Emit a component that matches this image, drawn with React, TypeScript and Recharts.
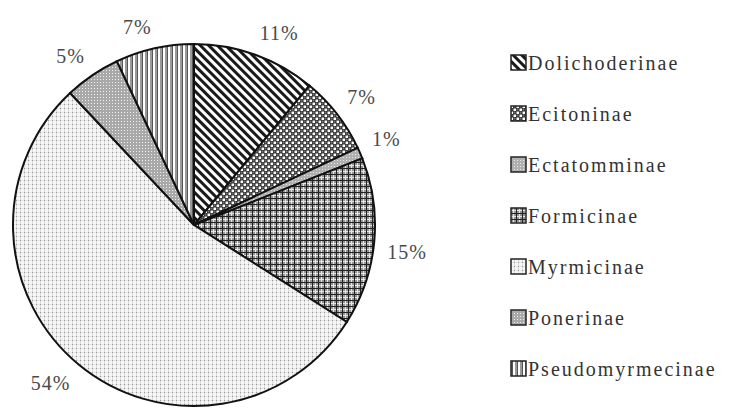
import React from 'react';
import { PieChart, Pie, Cell, Legend } from 'recharts';

const subfamilies = [
  'Dolichoderinae',
  'Ecitoninae',
  'Ectatomminae',
  'Formicinae',
  'Myrmicinae',
  'Ponerinae',
  'Pseudomyrmecinae',
];
const percentages = [11, 7, 1, 15, 54, 5, 7];
const patternIds = ['pDol', 'pEci', 'pEct', 'pFor', 'pMyr', 'pPon', 'pPse'];

const data = subfamilies.map((name, i) => ({ name, value: percentages[i] }));

const FONT = '"Liberation Serif", "DejaVu Serif", serif';
const RAD = Math.PI / 180;

function Patterns() {
  return (
    <svg width={0} height={0} style={{ position: 'absolute' }}>
      <defs>
        <pattern id="pDol" width="6" height="6" patternUnits="userSpaceOnUse" patternTransform="rotate(-45)">
          <rect width="6" height="6" fill="#fff" />
          <rect width="3" height="6" fill="#1a1a1a" />
        </pattern>
        <pattern id="pEci" width="6" height="6" patternUnits="userSpaceOnUse">
          <rect width="6" height="6" fill="#222" />
          <rect x="0.5" y="0.5" width="2.5" height="2.5" fill="#fff" />
          <rect x="3.5" y="3.5" width="2.5" height="2.5" fill="#fff" />
          <rect x="3.5" y="0.5" width="2" height="2" fill="#777" />
          <rect x="0.5" y="3.5" width="2" height="2" fill="#777" />
        </pattern>
        <pattern id="pEct" width="3" height="3" patternUnits="userSpaceOnUse">
          <rect width="3" height="3" fill="#b0b0b0" />
          <rect x="1" y="1" width="1" height="1" fill="#e8e8e8" />
        </pattern>
        <pattern id="pFor" width="6" height="6" patternUnits="userSpaceOnUse">
          <rect width="6" height="6" fill="#949494" />
          <rect x="0" y="3" width="6" height="1" fill="#e6e6e6" />
          <rect x="3" y="0" width="1" height="6" fill="#e6e6e6" />
          <rect x="0" y="0" width="6" height="1" fill="#222" />
          <rect x="0" y="0" width="1" height="6" fill="#222" />
        </pattern>
        <pattern id="pMyr" width="4" height="4" patternUnits="userSpaceOnUse">
          <rect width="4" height="4" fill="#f6f6f6" />
          <rect x="0" y="0" width="1" height="4" fill="#dcdcdc" />
          <rect x="0" y="0" width="4" height="1" fill="#e6e6e6" />
          <rect x="0" y="0" width="1" height="1" fill="#999" />
        </pattern>
        <pattern id="pPon" width="3" height="3" patternUnits="userSpaceOnUse">
          <rect width="3" height="3" fill="#a9a9a9" />
          <rect x="1" y="1" width="1" height="1" fill="#eee" />
        </pattern>
        <pattern id="pPse" width="5" height="5" patternUnits="userSpaceOnUse">
          <rect width="5" height="5" fill="#fff" />
          <rect x="0" y="0" width="2" height="5" fill="#9a9a9a" />
          <rect x="2" y="0" width="1" height="5" fill="#555" />
        </pattern>
      </defs>
    </svg>
  );
}

function renderLabel(props: any) {
  const { cx, cy, midAngle, outerRadius, value } = props;
  const ux = Math.cos(-midAngle * RAD);
  const uy = Math.sin(-midAngle * RAD);
  const R = outerRadius + 13;
  const px = cx + R * ux;
  const py = cy + R * uy;
  const anchor = ux > 0.05 ? 'start' : ux < -0.05 ? 'end' : 'middle';
  const y = py + (uy > 0 ? 9 : -9);
  return (
    <text
      x={px}
      y={y}
      textAnchor={anchor}
      dominantBaseline="central"
      fill="#4a4a4a"
      fontFamily={FONT}
      fontSize={20}
      letterSpacing={1}
    >
      {`${value}%`}
    </text>
  );
}

function renderLegend() {
  return (
    <div style={{ fontFamily: FONT }}>
      {subfamilies.map((name, i) => (
        <div key={name} style={{ display: 'flex', alignItems: 'center', height: 51 }}>
          <svg width={17} height={17} style={{ display: 'block' }}>
            <rect x={1} y={1} width={15} height={15} fill={`url(#${patternIds[i]})`} stroke="#222" strokeWidth={1.5} />
          </svg>
          <span
            style={{
              marginLeft: 1,
              fontFamily: FONT,
              fontSize: 20,
              letterSpacing: '2px',
              color: '#333',
              lineHeight: '20px',
            }}
          >
            {name}
          </span>
        </div>
      ))}
    </div>
  );
}

export default function App() {
  return (
    <div style={{ position: 'absolute', left: 0, top: 0, width: 754, height: 410, background: '#fff' }}>
      <Patterns />
      <PieChart width={754} height={410} margin={{ top: 0, right: 0, bottom: 0, left: 0 }}>
        <Pie
          data={data}
          dataKey="value"
          nameKey="name"
          cx={194}
          cy={225}
          outerRadius={181}
          startAngle={90}
          endAngle={-270}
          stroke="#111"
          strokeWidth={2}
          label={renderLabel}
          labelLine={false}
          isAnimationActive={false}
        >
          {data.map((d, i) => (
            <Cell key={d.name} fill={`url(#${patternIds[i]})`} />
          ))}
        </Pie>
        <Legend
          layout="vertical"
          verticalAlign="top"
          align="right"
          content={renderLegend}
          wrapperStyle={{ left: 510, top: 37, width: 244 }}
        />
      </PieChart>
    </div>
  );
}
